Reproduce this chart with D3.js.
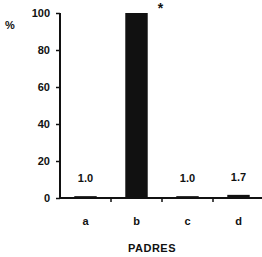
<!DOCTYPE html>
<html><head><meta charset="utf-8">
<script src="https://cdn.jsdelivr.net/npm/d3@7"></script>
<style>body{margin:0;background:#fff}svg{display:block}text{font-family:"Liberation Sans",Arial,sans-serif;font-weight:bold;fill:#111}</style>
</head><body>
<script>
const categories = ["a","b","c","d"];
const values = [1.0, 100, 1.0, 1.7];
const valueLabels = ["1.0", "*", "1.0", "1.7"];
const yTicks = [0,20,40,60,80,100];
const xTitle = "PADRES";
const yTitle = "%";

const W=262,H=257;
const svg=d3.select("body").append("svg").attr("width",W).attr("height",H);
const x=d3.scaleBand().domain(categories).range([60,264]).padding(0);
const y=d3.scaleLinear().domain([0,100]).range([198,13]);
const bw=x.bandwidth()*0.44;

// bars
svg.selectAll("rect.bar").data(categories).join("rect")
  .attr("x",d=>x(d)+x.bandwidth()/2-bw/2)
  .attr("width",bw)
  .attr("y",(d,i)=>y(values[i]))
  .attr("height",(d,i)=>Math.max(2,y(0)-y(values[i])))
  .attr("fill","#111");

// y axis
const ya=svg.append("g").attr("transform","translate(60,0)")
  .call(d3.axisLeft(y).tickValues(yTicks).tickSize(4).tickPadding(6));
ya.select(".domain").attr("stroke","#111").attr("stroke-width",2).attr("d","M0,"+y(100)+"V"+y(0));
ya.selectAll(".tick line").attr("stroke","#111").attr("stroke-width",1.5);
ya.selectAll(".tick text").attr("font-size",11).style("font-weight","bold").attr("fill","#111").attr("font-family","Liberation Sans, Arial, sans-serif");

// x axis
svg.append("line").attr("x1",59).attr("x2",262).attr("y1",y(0)).attr("y2",y(0)).attr("stroke","#111").attr("stroke-width",2);
svg.selectAll("line.xt").data(categories.slice(1)).join("line")
  .attr("x1",d=>x(d)).attr("x2",d=>x(d)).attr("y1",y(0)).attr("y2",y(0)+4)
  .attr("stroke","#111").attr("stroke-width",1.5);
svg.selectAll("text.cat").data(categories).join("text")
  .attr("x",d=>x(d)+x.bandwidth()/2).attr("y",225).attr("text-anchor","middle")
  .attr("font-size",11).text(d=>d);

// value labels
svg.selectAll("text.val").data(categories).join("text")
  .attr("x",(d,i)=>valueLabels[i]==="*"?x(d)+x.bandwidth()/2+24:x(d)+x.bandwidth()/2)
  .attr("y",(d,i)=>valueLabels[i]==="*"?y(values[i])+0:y(values[i])-14)
  .attr("text-anchor","middle").attr("font-size",(d,i)=>valueLabels[i]==="*"?14:11)
  .text((d,i)=>valueLabels[i]);

svg.append("text").attr("x",152).attr("y",252).attr("text-anchor","middle").attr("font-size",11).attr("letter-spacing",0.5).text(xTitle);
svg.append("text").attr("x",10).attr("y",29).attr("text-anchor","middle").attr("font-size",11).text(yTitle);
</script>
</body></html>
